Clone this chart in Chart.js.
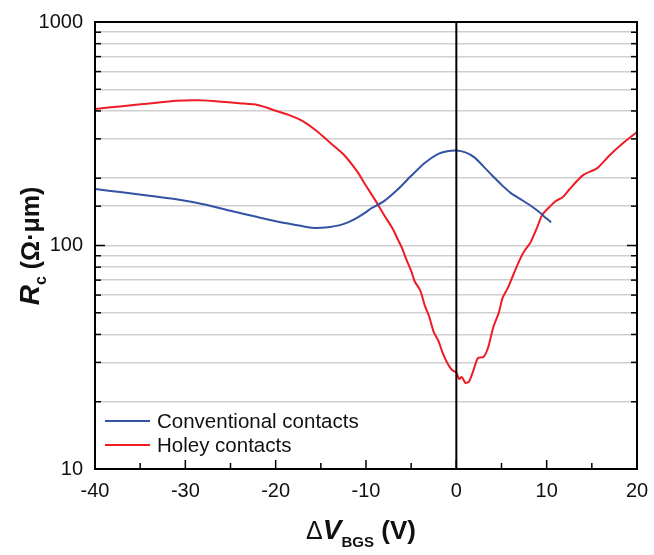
<!DOCTYPE html>
<html>
<head>
<meta charset="utf-8">
<script src="https://cdn.jsdelivr.net/npm/chart.js@4/dist/chart.umd.min.js"></script>
<style>
  html, body { margin: 0; padding: 0; background: #fff; }
  #wrap { width: 654px; height: 555px; }
</style>
</head>
<body>
<div id="wrap"><canvas id="c" width="654" height="555"></canvas></div>
<script>
// Contact resistance vs. back-gate overdrive voltage
const convV  = [-40, -37, -34, -31, -28, -25, -22, -19, -17, -16, -15, -14, -13, -12, -11, -10, -9.5, -8, -6.5, -5, -3.5, -2, -1, 0, 1, 2, 3, 4, 5, 6, 7, 8, 9, 10, 10.5];
const convRc = [179, 173, 167, 161, 153, 143, 134, 126, 122, 120, 120, 121, 123, 127, 133, 141, 146, 158, 178, 205, 234, 257, 264, 266, 261, 248, 226, 205, 187, 172, 162, 153, 143, 132, 127];

const holeyV  = [-40, -37, -34, -31, -28.5, -26, -24, -22, -20, -18.5, -17, -15.5, -14, -12.5, -11, -10, -9, -8, -7, -6.5, -6, -5.5, -5, -4.6, -4, -3.5, -3, -2.5, -2, -1.5, -1, -0.5, 0, 0.3, 0.6, 1.0, 1.4, 1.9, 2.4, 3.0, 3.5, 4.1, 4.7, 5.1, 5.7, 6.3, 7, 7.5, 8.2, 9, 9.5, 10.4, 11, 11.8, 12.5, 14, 15.6, 17, 18.5, 20];
const holeyRc = [408, 420, 432, 444, 446, 440, 433, 425, 401, 383, 360, 326, 289, 256, 215, 185, 160, 137, 118, 107, 97, 86, 77, 69, 63, 54, 48, 41, 37.5, 33, 29.8, 27.8, 27.0, 25.3, 25.8, 24.3, 24.6, 27.7, 31.4, 31.7, 34.8, 43.2, 50, 58, 64.6, 73.8, 86, 94, 103, 122, 137, 150, 158, 165, 178, 206, 222, 254, 288, 322];

const xTicks = [-40, -30, -20, -10, 0, 10, 20];
const yTicks = [10, 100, 1000];
const seriesNames = ['Conventional contacts', 'Holey contacts'];
const seriesColors = ['#3352a4', '#ee1c25'];

const FONT = 'Arial, "Liberation Sans", Helvetica, sans-serif';

function pts(xs, ys) { return xs.map((x, i) => ({ x: x, y: ys[i] })); }

const isDecade = v => Math.abs(Math.log10(v) - Math.round(Math.log10(v))) < 1e-9;

// draw a run of styled text pieces, centered on (cx, cy) along the baseline
function drawRich(ctx, parts, cx, cy) {
  let total = 0;
  parts.forEach(p => { ctx.font = p.font; p.w = ctx.measureText(p.t).width; total += p.w; });
  let x = cx - total / 2;
  ctx.textAlign = 'left';
  ctx.textBaseline = 'alphabetic';
  parts.forEach(p => { ctx.font = p.font; ctx.fillText(p.t, x, cy + (p.dy || 0)); x += p.w; });
}

const decor = {
  id: 'decor',
  afterDatasetsDraw(chart) {
    const ctx = chart.ctx;
    const a = chart.chartArea;
    const xs = chart.scales.x, ys = chart.scales.y;
    ctx.save();
    ctx.fillStyle = '#111';
    ctx.strokeStyle = '#000';

    // zero line
    ctx.lineWidth = 2;
    const x0 = xs.getPixelForValue(0);
    ctx.beginPath(); ctx.moveTo(x0, a.top); ctx.lineTo(x0, a.bottom); ctx.stroke();

    // inward tick marks on x axis (every 5 V)
    ctx.lineWidth = 1.5;
    for (let v = xs.min; v <= xs.max; v += 5) {
      const px = xs.getPixelForValue(v);
      const len = (v % 10 === 0) ? 9 : 6;
      ctx.beginPath(); ctx.moveTo(px, a.bottom); ctx.lineTo(px, a.bottom - len); ctx.stroke();
    }
    // inward tick marks on left and right axes
    ys.ticks.forEach(t => {
      const py = ys.getPixelForValue(t.value);
      const len = isDecade(t.value) ? 10 : 6;
      ctx.beginPath(); ctx.moveTo(a.left, py); ctx.lineTo(a.left + len, py); ctx.stroke();
      ctx.beginPath(); ctx.moveTo(a.right, py); ctx.lineTo(a.right - len, py); ctx.stroke();
    });

    // frame
    ctx.lineWidth = 2;
    ctx.strokeRect(a.left, a.top, a.right - a.left, a.bottom - a.top);

    // legend
    const ly = [421, 445];
    ctx.font = '20.5px ' + FONT;
    ctx.textBaseline = 'middle';
    ctx.textAlign = 'left';
    seriesNames.forEach((n, i) => {
      ctx.strokeStyle = seriesColors[i];
      ctx.lineWidth = 2;
      ctx.beginPath(); ctx.moveTo(a.left + 10, ly[i]); ctx.lineTo(a.left + 55, ly[i]); ctx.stroke();
      ctx.fillStyle = '#111';
      ctx.fillText(n, a.left + 62, ly[i] + 1);
    });

    // x axis title
    ctx.fillStyle = '#111';
    drawRich(ctx, [
      { t: '\u0394', font: '25px ' + FONT },
      { t: 'V', font: 'italic bold 28px ' + FONT },
      { t: 'BGS', font: 'bold 15px ' + FONT, dy: 8 },
      { t: ' (V)', font: 'bold 26px ' + FONT }
    ], 361, 539);

    // y axis title
    ctx.translate(39, 246);
    ctx.rotate(-Math.PI / 2);
    drawRich(ctx, [
      { t: 'R', font: 'italic bold 28px ' + FONT },
      { t: 'c', font: 'bold 16px ' + FONT, dy: 7 },
      { t: ' (\u03A9\u00B7\u03BCm)', font: 'bold 25px ' + FONT }
    ], 0, 0);
    ctx.restore();
  }
};

new Chart(document.getElementById('c'), {
  type: 'scatter',
  data: {
    datasets: [
      { label: seriesNames[0], data: pts(convV, convRc), borderColor: seriesColors[0], showLine: true, pointRadius: 0, borderWidth: 2, tension: 0.25 },
      { label: seriesNames[1], data: pts(holeyV, holeyRc), borderColor: seriesColors[1], showLine: true, pointRadius: 0, borderWidth: 2, tension: 0.25 }
    ]
  },
  options: {
    responsive: false,
    animation: false,
    layout: { padding: { top: 22, right: 17, left: 0, bottom: 0 } },
    plugins: { legend: { display: false }, tooltip: { enabled: false } },
    scales: {
      x: {
        type: 'linear', min: -40, max: 20,
        afterBuildTicks: s => { s.ticks = xTicks.map(v => ({ value: v })); },
        afterFit: s => { s.height = 86; s.paddingLeft = 0; s.paddingRight = 0; },
        grid: { display: false, drawTicks: false },
        border: { display: false },
        ticks: { color: '#111', font: { family: FONT, size: 20 }, padding: 10, maxRotation: 0 }
      },
      y: {
        type: 'logarithmic', min: 10, max: 1000,
        afterFit: s => { s.width = 95; s.paddingTop = 0; s.paddingBottom = 0; },
        grid: {
          drawTicks: false,
          lineWidth: 1.5,
          color: c => (c.tick && (c.tick.value === 10 || c.tick.value === 1000)) ? 'rgba(0,0,0,0)' : '#cfcfcf'
        },
        border: { display: false },
        ticks: {
          autoSkip: false,
          color: '#111', font: { family: FONT, size: 20 }, padding: 12,
          callback: v => (isDecade(v) && yTicks.includes(Math.round(v))) ? String(Math.round(v)) : ''
        }
      }
    }
  },
  plugins: [decor]
});
</script>
</body>
</html>
